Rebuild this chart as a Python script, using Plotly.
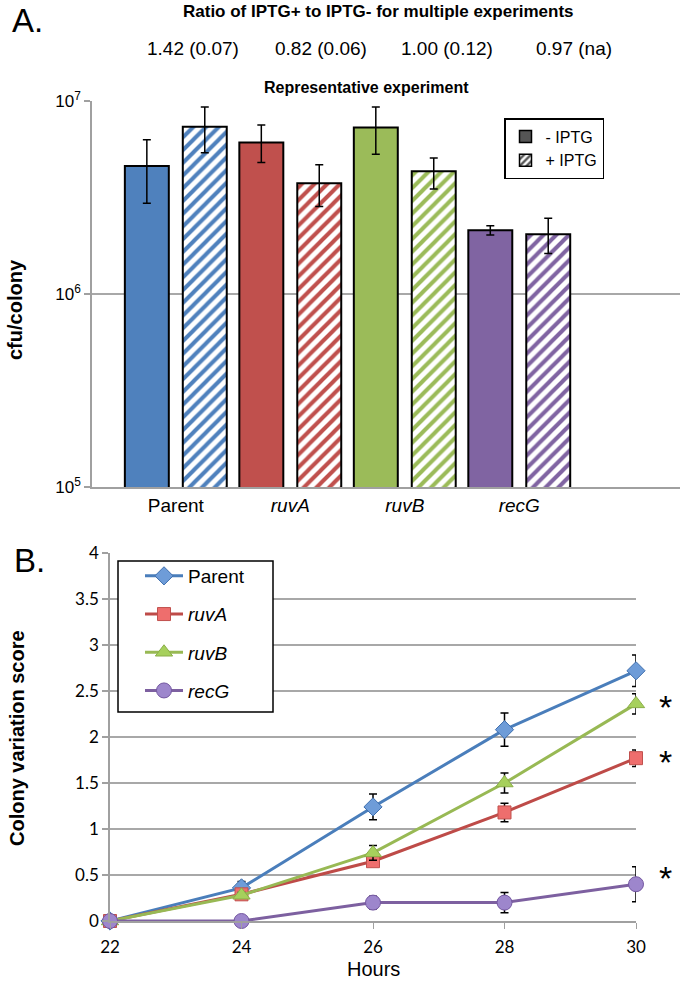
import plotly.graph_objects as go

W, H = 680, 982

# ---------------- Panel A data ----------------
groups = ["Parent", "ruvA", "ruvB", "recG"]
group_labels = ["Parent", "<i>ruvA</i>", "<i>ruvB</i>", "<i>recG</i>"]
bar_colors = ["#4F81BD", "#C0504D", "#9BBB59", "#8064A2"]

minus_iptg = [4.6e6, 6.1e6, 7.3e6, 2.14e6]
minus_hi = [6.3e6, 7.5e6, 9.3e6, 2.26e6]
minus_lo = [2.95e6, 4.8e6, 5.3e6, 2.02e6]

plus_iptg = [7.35e6, 3.75e6, 4.33e6, 2.04e6]
plus_hi = [9.3e6, 4.67e6, 5.07e6, 2.47e6]
plus_lo = [5.4e6, 2.84e6, 3.5e6, 1.62e6]

ratio_texts = ["1.42 (0.07)", "0.82 (0.06)", "1.00 (0.12)", "0.97 (na)"]

# ---------------- Panel B data ----------------
hours = [22, 24, 26, 28, 30]
parent = [0, 0.36, 1.24, 2.08, 2.72]
parent_err = [0, 0.07, 0.14, 0.18, 0.17]
ruvA = [0, 0.29, 0.65, 1.18, 1.77]
ruvA_err = [0, 0.03, 0.05, 0.10, 0.09]
ruvB = [0, 0.28, 0.74, 1.50, 2.36]
ruvB_err = [0, 0.03, 0.08, 0.11, 0.11]
recG = [0, 0, 0.20, 0.20, 0.40]
recG_err = [0, 0, 0.07, 0.11, 0.19]

ARIAL = "Liberation Sans"
CALI = "Lato"


def px(x):
    return x / W


def py(y):
    return 1 - y / H


xpos = list(range(len(groups)))

fig = go.Figure()

# solid (- IPTG)
fig.add_trace(go.Bar(
    x=xpos, y=minus_iptg, width=0.384, offset=-0.445,
    marker=dict(color=bar_colors, line=dict(color="black", width=2)),
    error_y=dict(type="data", symmetric=False,
                 array=[h - v for h, v in zip(minus_hi, minus_iptg)],
                 arrayminus=[v - l for v, l in zip(minus_iptg, minus_lo)],
                 color="black", thickness=1.5, width=4),
    showlegend=False, xaxis="x", yaxis="y"))

# hatched (+ IPTG)
fig.add_trace(go.Bar(
    x=xpos, y=plus_iptg, width=0.384, offset=0.061,
    marker=dict(color="white", line=dict(color="black", width=2),
                pattern=dict(shape="/", fgcolor=bar_colors, bgcolor="white",
                             size=9, solidity=0.45, fillmode="replace", fgopacity=1)),
    error_y=dict(type="data", symmetric=False,
                 array=[h - v for h, v in zip(plus_hi, plus_iptg)],
                 arrayminus=[v - l for v, l in zip(plus_iptg, plus_lo)],
                 color="black", thickness=1.5, width=4),
    showlegend=False, xaxis="x", yaxis="y"))

# legend-only entries for panel A
fig.add_trace(go.Bar(x=[None], y=[None], name="- IPTG",
                     marker=dict(color="#555555", line=dict(color="black", width=1.5)),
                     xaxis="x", yaxis="y", legend="legend"))
fig.add_trace(go.Bar(x=[None], y=[None], name="+ IPTG",
                     marker=dict(color="white", line=dict(color="black", width=1.5),
                                 pattern=dict(shape="/", fgcolor="#555555", bgcolor="white",
                                              size=6, solidity=0.5, fillmode="replace",
                                              fgopacity=1)),
                     xaxis="x", yaxis="y", legend="legend"))

# ---------------- Panel B traces ----------------
series = [
    ("Parent", parent, parent_err, "#4A7EBB", "diamond", 14, "#6E9CD8", "#3F6FAE"),
    ("<i>ruvA</i>", ruvA, ruvA_err, "#BE4B48", "square", 13, "#EE6E6D", "#C0504D"),
    ("<i>ruvB</i>", ruvB, ruvB_err, "#98B954", "triangle-up", 15, "#A6D05C", "#8BAE48"),
    ("<i>recG</i>", recG, recG_err, "#7D60A0", "circle", 15, "#9D86CC", "#7356A0"),
]
for i, (name, vals, errs, lc, sym, size, fc, mlc) in enumerate(series):
    fig.add_trace(go.Scatter(
        x=hours, y=vals, name=name, mode="lines+markers",
        line=dict(color=lc, width=3),
        marker=dict(symbol=sym, size=size, color=fc, line=dict(color=mlc, width=1)),
        error_y=dict(type="data", array=errs, color="black", thickness=1.5, width=4),
        cliponaxis=False, legend="legend2", legendgroup=f"g{i}",
        xaxis="x2", yaxis="y2"))

annotations = [
    dict(text="A.", x=px(10), y=1.0, xref="paper", yref="paper", xanchor="left",
         yanchor="top", showarrow=False, font=dict(family=ARIAL, size=33, color="black")),
    dict(text="B.", x=px(12), y=py(560), xref="paper", yref="paper", xanchor="left",
         yanchor="middle", showarrow=False, font=dict(family=ARIAL, size=33, color="black")),
    dict(text="<b>Ratio of IPTG+ to IPTG- for multiple experiments</b>", x=px(378), y=py(11),
         xref="paper", yref="paper", xanchor="center", yanchor="middle", showarrow=False,
         font=dict(family=ARIAL, size=17, color="black")),
    dict(text="<b>Representative experiment</b>", x=px(366), y=py(87),
         xref="paper", yref="paper", xanchor="center", yanchor="middle", showarrow=False,
         font=dict(family=ARIAL, size=16, color="black")),
    dict(text="<b>cfu/colony</b>", x=px(15), y=py(310), xref="paper", yref="paper",
         xanchor="center", yanchor="middle", textangle=-90, showarrow=False,
         font=dict(family=ARIAL, size=20, color="black")),
    dict(text="<b>Colony variation score</b>", x=px(17), y=py(738), xref="paper", yref="paper",
         xanchor="center", yanchor="middle", textangle=-90, showarrow=False,
         font=dict(family=ARIAL, size=20, color="black")),
    dict(text="Hours", x=px(373), y=py(969), xref="paper", yref="paper",
         xanchor="center", yanchor="middle", showarrow=False,
         font=dict(family=ARIAL, size=20, color="black")),
]
for t, cx in zip(ratio_texts, [193, 321, 447, 574]):
    annotations.append(dict(text=t, x=px(cx), y=py(48), xref="paper", yref="paper",
                            xanchor="center", yanchor="middle", showarrow=False,
                            font=dict(family=ARIAL, size=19, color="black")))
for cy in [707, 762, 878]:
    annotations.append(dict(text="*", x=px(665), y=py(cy), xref="paper", yref="paper",
                            xanchor="center", yanchor="middle", showarrow=False,
                            font=dict(family=ARIAL, size=34, color="black")))

# frame of the panel B legend (white box drawn over the grid)
shapes = [dict(type="rect", xref="paper", yref="paper",
               x0=px(118), x1=px(273), y0=py(712), y1=py(561),
               line=dict(color="black", width=1.5), fillcolor="white", layer="above")]

fig.update_layout(
    width=W, height=H, margin=dict(l=0, r=0, t=0, b=0, autoexpand=False),
    paper_bgcolor="white", plot_bgcolor="white",
    barmode="overlay", showlegend=True,
    xaxis=dict(domain=[px(92), 1.0], range=[-0.732, 4.404], automargin=False,
               tickvals=xpos, ticktext=group_labels, showgrid=False, zeroline=False,
               showline=True, linecolor="#A0A0A0", linewidth=1.5, ticks="",
               tickfont=dict(family=ARIAL, size=19, color="black"), anchor="y"),
    yaxis=dict(domain=[py(487), py(101)], type="log", range=[5, 7], automargin=False,
               tickvals=[1e5, 1e6, 1e7],
               ticktext=["10<sup>5</sup>", "10<sup>6</sup>", "10<sup>7</sup>"],
               showgrid=True, gridcolor="#A8A8A8", gridwidth=1.5, zeroline=False,
               showline=True, linecolor="#A0A0A0", linewidth=1.5,
               ticks="outside", ticklen=6, tickcolor="#A0A0A0", tickwidth=1.5,
               tickfont=dict(family=ARIAL, size=17, color="black"), anchor="x"),
    xaxis2=dict(domain=[px(110), px(636)], range=[22, 30], tickvals=hours, automargin=False,
                showgrid=False, zeroline=False, showline=True, linecolor="#A0A0A0",
                linewidth=1.5, ticks="outside", ticklen=6, tickcolor="#A0A0A0",
                ticklabelstandoff=4,
                tickfont=dict(family=CALI, size=17, color="black"), anchor="y2"),
    yaxis2=dict(domain=[py(921), py(553)], range=[0, 4], dtick=0.5, automargin=False,
                showgrid=True, gridcolor="#A8A8A8", gridwidth=1.5, zeroline=False,
                showline=True, linecolor="#A0A0A0", linewidth=1.5,
                ticks="outside", ticklen=6, tickcolor="#A0A0A0", tickwidth=1.5,
                tickfont=dict(family=CALI, size=17, color="black"), anchor="x2"),
    legend=dict(x=px(504), y=py(118), xanchor="left", yanchor="top",
                bordercolor="black", borderwidth=1.5, bgcolor="white",
                font=dict(family=ARIAL, size=16, color="black"),
                itemwidth=30, tracegroupgap=0),
    legend2=dict(x=px(140), y=py(557), xanchor="left", yanchor="top",
                 borderwidth=0, bgcolor="rgba(0,0,0,0)",
                 font=dict(family=ARIAL, size=19, color="black"),
                 traceorder="grouped", tracegroupgap=10.5, itemwidth=38),
    shapes=shapes,
    annotations=annotations,
)

fig.write_html("out.html", config={"displayModeBar": False},
               post_script="document.body.style.margin='0px';")
